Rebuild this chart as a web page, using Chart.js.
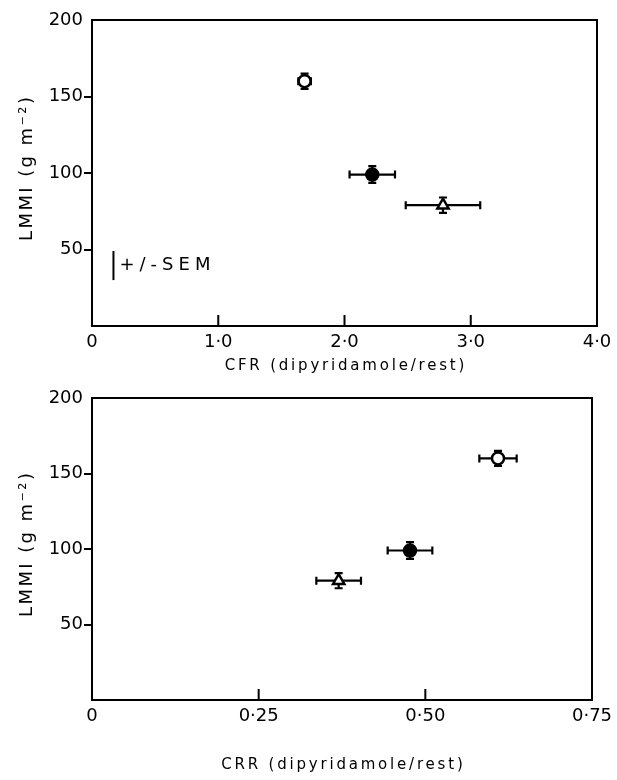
<!DOCTYPE html>
<html>
<head>
<meta charset="utf-8">
<script src="https://cdn.jsdelivr.net/npm/chart.js@4.4.0/dist/chart.umd.min.js"></script>
<style>
  html, body { margin: 0; padding: 0; background: #fff; }
  #wrap { position: relative; width: 617px; height: 780px; }
  .panel { position: absolute; left: 0; width: 617px; }
  #top { top: 0; height: 380px; }
  #bottom { top: 380px; height: 400px; }
</style>
</head>
<body>
<div id="wrap">
  <div class="panel" id="top"><canvas id="cfrChart"></canvas></div>
  <div class="panel" id="bottom"><canvas id="crrChart"></canvas></div>
</div>
<script>
// groups: open circle, filled circle, open triangle
var groupStyles = ['circle', 'circle', 'triangle'];
var groupFills = ['#fff', '#000', '#fff'];

var lmmiValues = [160, 99, 79];
var lmmiErr = [5, 5.5, 5];

var cfrValues = [1.684, 2.22, 2.78];
var cfrErr = [0.05, 0.18, 0.295];

var crrValues = [0.609, 0.477, 0.370];
var crrErr = [0.028, 0.0335, 0.0335];

var lmmiTicks = ['', '50', '100', '150', '200'];
var cfrTicks = ['0', '1·0', '2·0', '3·0', '4·0'];
var crrTicks = ['0', '0·25', '0·50', '0·75'];

var yTitle = 'LMMI (g m⁻²)';

var FONT = 'DejaVu Sans';

Chart.defaults.font.family = FONT;
Chart.defaults.color = '#000';

var errorBars = {
    id: 'errorBars',
    beforeDatasetsDraw: function (chart, args, opts) {
        var ctx = chart.ctx;
        var xs = chart.scales.x, ys = chart.scales.y;
        var cap = 4;
        ctx.save();
        ctx.strokeStyle = '#000';
        ctx.lineWidth = 2.2;
        chart.data.datasets[0].data.forEach(function (p, i) {
            var px = xs.getPixelForValue(p.x), py = ys.getPixelForValue(p.y);
            var x1 = xs.getPixelForValue(p.x - opts.xErr[i]);
            var x2 = xs.getPixelForValue(p.x + opts.xErr[i]);
            var y1 = ys.getPixelForValue(p.y - opts.yErr[i]);
            var y2 = ys.getPixelForValue(p.y + opts.yErr[i]);
            ctx.beginPath();
            ctx.moveTo(x1, py); ctx.lineTo(x2, py);
            ctx.moveTo(x1, py - cap); ctx.lineTo(x1, py + cap);
            ctx.moveTo(x2, py - cap); ctx.lineTo(x2, py + cap);
            ctx.moveTo(px, y1); ctx.lineTo(px, y2);
            ctx.moveTo(px - cap, y1); ctx.lineTo(px + cap, y1);
            ctx.moveTo(px - cap, y2); ctx.lineTo(px + cap, y2);
            ctx.stroke();
        });
        ctx.restore();
    }
};

// box, inward x ticks, axis titles (spaced lettering) and the SEM key
var frame = {
    id: 'frame',
    afterDraw: function (chart, args, opts) {
        var ctx = chart.ctx, a = chart.chartArea;
        var xs = chart.scales.x, ys = chart.scales.y;
        ctx.save();
        ctx.strokeStyle = '#000';
        ctx.fillStyle = '#000';
        ctx.lineWidth = 2;
        ctx.strokeRect(a.left, a.top, a.right - a.left, a.bottom - a.top);
        ctx.beginPath();
        xs.ticks.forEach(function (t) {
            if (t.value <= xs.min || t.value >= xs.max) return;
            var x = xs.getPixelForValue(t.value);
            ctx.moveTo(x, a.bottom);
            ctx.lineTo(x, a.bottom - 11);
        });
        ctx.stroke();

        ctx.textAlign = 'center';
        ctx.textBaseline = 'middle';
        ctx.font = '15px ' + FONT;
        ctx.letterSpacing = '2.8px';
        ctx.fillText(opts.xTitle, (a.left + a.right) / 2 + 1.4, a.bottom + opts.xTitleGap);

        ctx.save();
        ctx.translate(27, (a.top + a.bottom) / 2 - 4);
        ctx.rotate(-Math.PI / 2);
        ctx.font = '18px ' + FONT;
        ctx.letterSpacing = '2.4px';
        ctx.fillText(yTitle, 1.2, 0);
        ctx.restore();

        if (opts.sem) {
            var bx = xs.getPixelForValue(opts.sem.x);
            ctx.beginPath();
            ctx.moveTo(bx, ys.getPixelForValue(opts.sem.y1));
            ctx.lineTo(bx, ys.getPixelForValue(opts.sem.y2));
            ctx.stroke();
            ctx.font = '18px ' + FONT;
            ctx.letterSpacing = '5px';
            ctx.textAlign = 'left';
            ctx.fillText('+/-SEM', bx + 6, ys.getPixelForValue((opts.sem.y1 + opts.sem.y2) / 2));
        }
        ctx.restore();
    }
};

function makeChart(id, xValues, xErr, xMax, xStep, xLabels, xTitle, pad, axisH, titleGap, sem) {
    var pts = xValues.map(function (v, i) { return { x: v, y: lmmiValues[i] }; });
    return new Chart(document.getElementById(id), {
        type: 'scatter',
        data: {
            datasets: [{
                data: pts,
                pointStyle: groupStyles,
                backgroundColor: groupFills,
                borderColor: '#000',
                borderWidth: 2.5,
                pointRadius: [6, 6, 6.5]
            }]
        },
        options: {
            responsive: true,
            maintainAspectRatio: false,
            animation: false,
            events: [],
            layout: { padding: pad },
            plugins: {
                legend: { display: false },
                tooltip: { enabled: false },
                errorBars: { xErr: xErr, yErr: lmmiErr },
                frame: { sem: sem, xTitle: xTitle, xTitleGap: titleGap }
            },
            scales: {
                x: {
                    type: 'linear',
                    min: 0, max: xMax,
                    border: { display: false },
                    grid: { display: false, drawTicks: false },
                    ticks: {
                        stepSize: xStep,
                        padding: 6,
                        maxRotation: 0,
                        font: { size: 18 },
                        callback: function (v, i) { return xLabels[i]; }
                    },
                    afterFit: function (s) {
                        s.height = axisH;
                        s.paddingLeft = 0;
                        s.paddingRight = 0;
                    }
                },
                y: {
                    min: 0, max: 200,
                    border: { display: false },
                    grid: {
                        drawOnChartArea: false,
                        tickLength: 8,
                        lineWidth: 2,
                        color: function (c) { return (c.tick.value === 0 || c.tick.value === 200) ? 'rgba(0,0,0,0)' : '#000'; }
                    },
                    ticks: {
                        stepSize: 50,
                        padding: 1,
                        font: { size: 18 },
                        callback: function (v, i) { return lmmiTicks[i]; }
                    },
                    afterFit: function (s) {
                        s.width = 92;
                        s.paddingTop = 0;
                        s.paddingBottom = 0;
                    }
                }
            }
        },
        plugins: [errorBars, frame]
    });
}

makeChart('cfrChart', cfrValues, cfrErr, 4, 1, cfrTicks, 'CFR (dipyridamole/rest)',
    { left: 0, right: 20, top: 20, bottom: 0 }, 54, 40, { x: 0.17, y1: 30, y2: 49 });
makeChart('crrChart', crrValues, crrErr, 0.75, 0.25, crrTicks, 'CRR (dipyridamole/rest)',
    { left: 0, right: 25, top: 18, bottom: 0 }, 80, 65, null);
</script>
</body>
</html>
